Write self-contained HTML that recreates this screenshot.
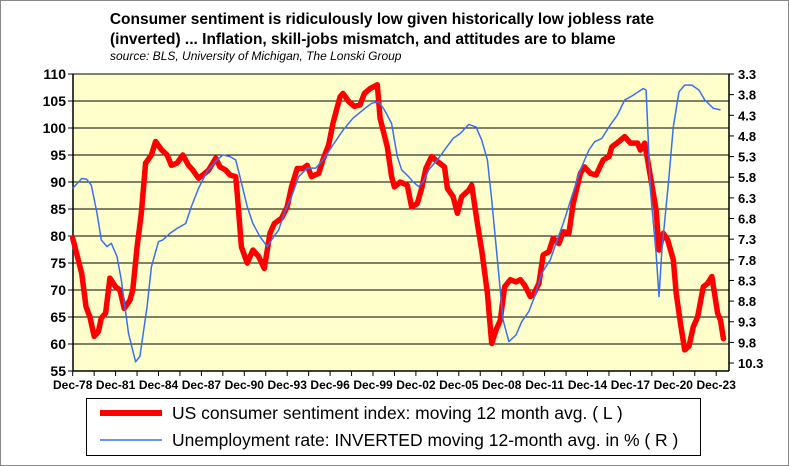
<!DOCTYPE html>
<html><head><meta charset="utf-8"><style>
body{margin:0;background:#fff;}
#wrap{position:relative;width:789px;height:466px;overflow:hidden;font-family:"Liberation Sans",Arial,sans-serif;}
svg text{font-family:"Liberation Sans",Arial,sans-serif;}
</style></head><body>
<div id="wrap">
<svg id="chart" width="789" height="466">
<rect x="0.5" y="0.5" width="788" height="465" fill="#fff" stroke="#888"/>
<text x="382" y="24" text-anchor="middle" font-size="15.5" font-weight="bold">Consumer sentiment is ridiculously low given historically low jobless rate</text>
<text x="110" y="44" font-size="15.5" font-weight="bold">(inverted) ... Inflation, skill-jobs mismatch, and attitudes are to blame</text>
<text x="110" y="60" font-size="12" font-style="italic">source: BLS, University of Michigan, The Lonski Group</text>
<rect x="73" y="74" width="656" height="297" fill="#FFFFCC"/>
<g id="grid"></g><g id="axes"></g><g id="series"></g>
<rect x="86.5" y="398.5" width="614" height="57" fill="#fff" stroke="#000"/>
<line x1="100" y1="413" x2="162" y2="413" stroke="#f00" stroke-width="6"/>
<text x="172" y="419" font-size="17.5">US consumer sentiment index: moving 12 month avg. ( L )</text>
<line x1="100" y1="440" x2="162" y2="440" stroke="#3a6ff0" stroke-width="1.6"/>
<text x="172" y="446" font-size="17.5">Unemployment rate: INVERTED moving 12-month avg. in % ( R )</text>
</svg>
</div>
<script>
const leftTicks=[110,105,100,95,90,85,80,75,70,65,60,55];
const rightTicks=[3.3,3.8,4.3,4.8,5.3,5.8,6.3,6.8,7.3,7.8,8.3,8.8,9.3,9.8,10.3];
const xLabels=["Dec-78","Dec-81","Dec-84","Dec-87","Dec-90","Dec-93","Dec-96","Dec-99","Dec-02","Dec-05","Dec-08","Dec-11","Dec-14","Dec-17","Dec-20","Dec-23"];
const sentT=[0,0.63,0.93,1.2,1.5,1.8,2.0,2.3,2.6,3.0,3.3,3.6,4.0,4.2,4.5,4.8,5.1,5.5,5.8,6.2,6.6,6.9,7.3,7.7,8.1,8.4,8.8,9.1,9.5,10.0,10.3,10.7,11.0,11.4,11.5,11.8,12.2,12.6,13.0,13.4,13.8,14.1,14.6,15.0,15.3,15.7,16.1,16.4,16.7,17.2,17.5,17.9,18.2,18.7,18.9,19.3,19.7,20.1,20.4,20.8,21.3,21.5,22.0,22.3,22.5,22.9,23.4,23.7,24.1,24.4,24.7,25.1,25.5,26.0,26.2,26.6,26.9,27.2,27.7,27.9,28.3,28.6,29.0,29.3,29.6,29.9,30.2,30.6,31.0,31.3,31.6,32.0,32.2,32.6,32.9,33.3,33.6,34.0,34.3,34.7,35.0,35.5,35.8,36.2,36.6,37.1,37.5,37.7,38.2,38.6,39.0,39.5,39.7,40.0,40.2,40.6,40.8,41.0,41.3,41.6,42.0,42.2,42.5,42.8,43.1,43.4,43.7,44.1,44.4,44.7,45.1,45.3,45.5];
const sentV=[79.6,73.1,66.9,65,61.4,62.3,64.8,65.7,72.2,70.6,70,66.6,68.1,70,78,84.2,93.5,95,97.5,96,95,93.1,93.5,95,93.1,92.2,90.7,91.3,92.2,94.4,92.8,92.2,91.3,91,87.9,78,75,77.4,76.2,74,80.5,82.3,83.3,85.4,89.1,92.5,92.5,93.1,91,91.6,94.1,96.9,100.9,105.8,106.4,104.9,104,104.3,106.4,107.3,108,101.8,96.5,91,89.1,90,89.4,85.4,86,88.8,92.5,94.7,93.8,92.8,88.8,87.3,84.2,87.3,88.5,89.4,82.3,77.4,69.4,60.1,62.6,64.4,70.6,71.9,71.5,71.9,70.9,68.8,69.1,71.2,76.5,77.1,79.6,78.6,80.8,80.5,86,91.6,92.8,91.6,91.3,94.1,94.7,96.5,97.5,98.4,97.2,97.2,95.9,97.2,94.1,87.9,84.8,77.4,80.5,79.3,75.6,69.4,63.8,58.9,59.6,63.2,65,70.6,71.2,72.5,65.7,64.4,61];
const unT=[0,0.63,0.98,1.3,1.7,2.0,2.4,2.7,3.1,3.4,3.9,4.4,4.7,5.2,5.5,6.0,6.3,6.8,7.3,7.9,8.3,8.8,9.4,10.1,10.5,11.0,11.4,11.7,12.2,12.6,13.1,13.6,13.9,14.4,14.8,15.3,15.8,16.4,17.0,17.5,18.2,18.9,19.6,20.3,20.9,21.4,21.8,22.3,22.7,23.0,23.5,23.8,24.2,24.5,24.9,25.5,26.0,26.6,27.1,27.7,28.2,28.6,29.0,29.3,29.7,30.1,30.5,31.0,31.4,31.9,32.3,32.8,33.4,33.8,34.3,34.9,35.5,36.1,36.5,37.0,37.6,38.1,38.6,39.2,39.9,40.1,40.4,40.8,41.0,41.2,41.7,42.0,42.4,42.8,43.3,43.8,44.2,44.8,45.3];
const unV=[6.07,5.83,5.85,5.99,6.67,7.32,7.48,7.4,7.72,8.29,9.58,10.27,10.14,8.93,7.97,7.36,7.32,7.16,7.04,6.92,6.51,6.07,5.66,5.38,5.26,5.3,5.38,5.79,6.51,6.92,7.24,7.48,7.32,7.08,6.67,6.27,5.79,5.58,5.58,5.38,5.02,4.66,4.37,4.17,4.01,3.97,4.17,4.5,5.3,5.62,5.79,5.91,6.03,5.91,5.62,5.38,5.14,4.86,4.74,4.52,4.58,4.9,5.38,6.35,7.8,9.26,9.78,9.62,9.3,9.05,8.69,8.13,7.8,7.4,6.92,6.27,5.62,5.14,4.94,4.86,4.53,4.29,3.93,3.81,3.65,3.69,6.11,7.64,8.69,7.56,5.79,4.58,3.73,3.57,3.57,3.69,3.93,4.13,4.17];

const NS="http://www.w3.org/2000/svg";
const X0=72.7,PXY=14.3,TOP=74,BOT=371,L=73,R=729;
const xS=t=>X0+t*PXY;
const yL=v=>TOP+(110-v)*5.4;
const yR=v=>TOP+(v-3.3)*41.29;
function mk(tag,attrs,parent){const e=document.createElementNS(NS,tag);for(const k in attrs)e.setAttribute(k,attrs[k]);parent.appendChild(e);return e;}
const grid=document.getElementById('grid'),axes=document.getElementById('axes'),series=document.getElementById('series');
leftTicks.forEach(v=>{
  const y=yL(v);
  if(v<110&&v>55){const g=mk('line',{x1:L,y1:y,x2:R,y2:y,stroke:'#000','stroke-width':1},grid);
  
  }
  const tk=mk('line',{x1:L-5,y1:y,x2:L,y2:y,stroke:'#000'},axes);
  
  
  const t=mk('text',{x:L-7,y:y+5,'text-anchor':'end','font-size':14,'font-weight':'bold'},axes);t.textContent=v;
  
  
});
rightTicks.forEach(v=>{
  const y=yR(v);
  const tk=mk('line',{x1:R,y1:y,x2:R+5,y2:y,stroke:'#000'},axes);
  
  
  const t=mk('text',{x:R+9,y:y+5,'font-size':13,'font-weight':'bold'},axes);t.textContent=v.toFixed(1);
  
  
});
xLabels.forEach((s,i)=>{
  const x=xS(i*3);
  const t=mk('text',{x:x,y:389,'text-anchor':'middle','font-size':12,'font-weight':'bold'},axes);t.textContent=s;
  
  
});
for(let k=0;k<=31;k++){const x=xS(k*1.5);if(x>R)break;
  const tk=mk('line',{x1:x,y1:BOT,x2:x,y2:BOT+5,stroke:'#000'},axes);
  
  }
const ax1=mk('line',{x1:L,y1:TOP,x2:L,y2:BOT,stroke:'#000','stroke-width':1.5},axes);


const ax2=mk('line',{x1:R,y1:TOP,x2:R,y2:BOT,stroke:'#000','stroke-width':1.5},axes);


const ax3=mk('line',{x1:L,y1:BOT,x2:R,y2:BOT,stroke:'#000','stroke-width':1.5},axes);


const ax4=mk('line',{x1:L,y1:TOP,x2:R,y2:TOP,stroke:'#000','stroke-width':1},axes);


const sp=sentT.map((t,i)=>xS(t).toFixed(1)+','+yL(sentV[i]).toFixed(1)).join(' ');
const s1=mk('polyline',{points:sp,fill:'none',stroke:'#f00','stroke-width':5.5,'stroke-linejoin':'round','stroke-linecap':'round'},series);


const up=unT.map((t,i)=>xS(t).toFixed(1)+','+yR(unV[i]).toFixed(1)).join(' ');
const s2=mk('polyline',{points:up,fill:'none',stroke:'#3a6ff0','stroke-width':1.5,'stroke-linejoin':'round'},series);


</script>
</body></html>
